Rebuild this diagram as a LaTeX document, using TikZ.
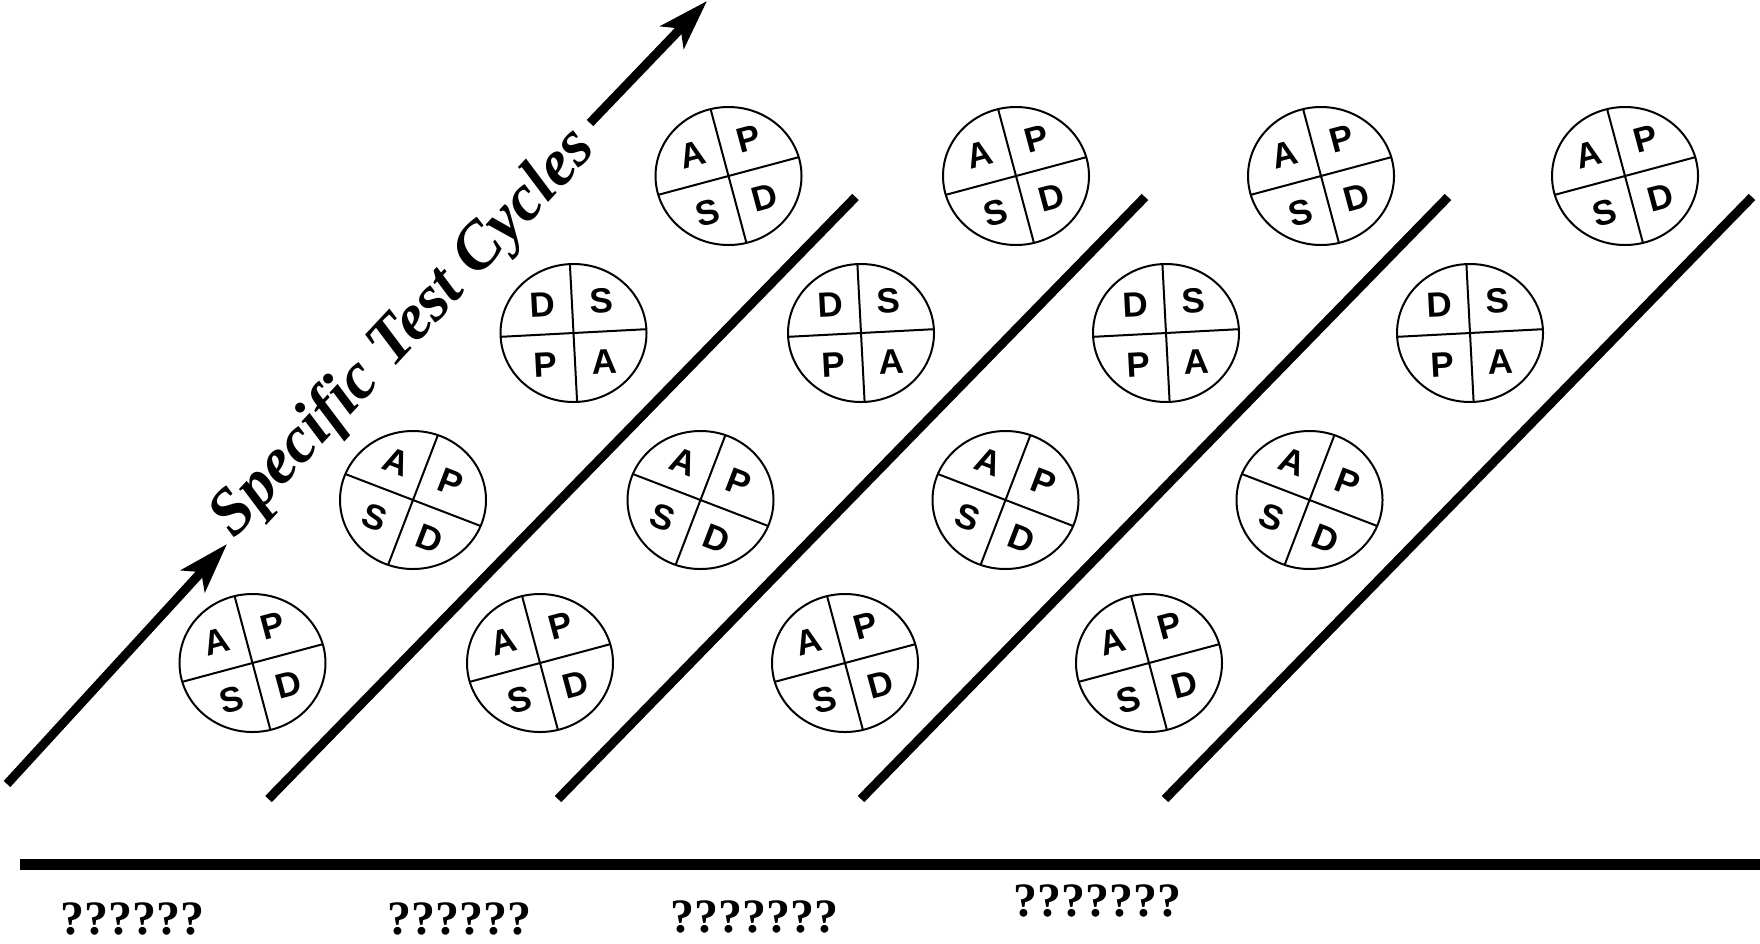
\documentclass[tikz,border=0pt]{standalone}
\usepackage{fontspec}
\setmainfont{Liberation Serif}
\newfontfamily\wheelfont{Liberation Sans}
\usepackage{tikz}
\usetikzlibrary{
  arrows.meta,
  shapes.geometric,
  calc
}

\tikzset{
  wheel/.style={draw, ellipse, line width=1pt, minimum width=73pt,
                minimum height=69pt, inner sep=0pt, outer sep=0pt},
  quarter/.style={font=\wheelfont\bfseries\fontsize{17.5}{17.5}\selectfont, inner sep=0pt},
  divider/.style={line width=1pt},
  band/.style={line width=4.5pt},
  bigarrow/.style={line width=4.5pt, -{Stealth[length=25pt, width=16pt, inset=6pt]}},
  marks/.style={font=\bfseries\fontsize{24}{24}\selectfont, inner sep=0pt}
}

% #1 name, #2 x, #3 y, #4 turn, #5-#8 letters (top left, top right, bottom left, bottom right)
\newcommand{\pdsawheel}[8]{%
  \node[wheel] (#1) at (#2,#3) {};
  \pgfmathtruncatemacro\wa{#4+90}%
  \pgfmathtruncatemacro\wb{#4+180}%
  \pgfmathtruncatemacro\wc{#4+270}%
  \draw[divider] (#1.#4) -- (#1.\wb) (#1.\wa) -- (#1.\wc);
  \node[quarter, rotate=#4] at ($(#1)+(#4+134:42)$) {#5};
  \node[quarter, rotate=#4] at ($(#1)+(#4+46:42)$) {#6};
  \node[quarter, rotate=#4] at ($(#1)+(#4+226:42)$) {#7};
  \node[quarter, rotate=#4] at ($(#1)+(#4+314:42)$) {#8};
}

\begin{document}
\begin{tikzpicture}[x=0.5pt, y=0.5pt]
  \useasboundingbox (0,0) rectangle (1760,-943);

  % rising axis with its label
  \node[rotate=47, font=\bfseries\itshape\fontsize{33}{33}\selectfont] (title) at (404,-334) {Specific Test Cycles};
  \coordinate (lowstart) at (7,-784);
  \coordinate (lowtip) at (227,-544);
  \coordinate (highstart) at (590,-123);
  \coordinate (hightip) at (707,-1);
  \draw[bigarrow] (lowstart) -- (lowtip);
  \draw[bigarrow] (highstart) -- (hightip);

  % separating bands
  \foreach \bx in {268.5,558,861,1165}
    \draw[band] (\bx,-799) -- ++(587,602);

  % wheels, one column per band
  \foreach \gx [count=\g] in {252.5,540,845,1149} {
    \pdsawheel{w\g a}{\gx}{-663}{15}{A}{P}{S}{D}
    \pdsawheel{w\g b}{\gx+160.5}{-500}{-21}{A}{P}{S}{D}
    \pdsawheel{w\g c}{\gx+321}{-333}{3}{D}{S}{P}{A}
    \pdsawheel{w\g d}{\gx+476}{-176}{15}{A}{P}{S}{D}
  }

  % time line
  \coordinate (base west) at (20,-864);
  \coordinate (base east) at (1760,-864);
  \draw[line width=5.5pt] (base west) -- (base east);

  \node[marks] (q1) at (132,-919) {??????};
  \node[marks] (q2) at (459.5,-919) {??????};
  \node[marks] (q3) at (754.5,-917) {???????};
  \node[marks] (q4) at (1097,-901) {???????};
\end{tikzpicture}
\end{document}
